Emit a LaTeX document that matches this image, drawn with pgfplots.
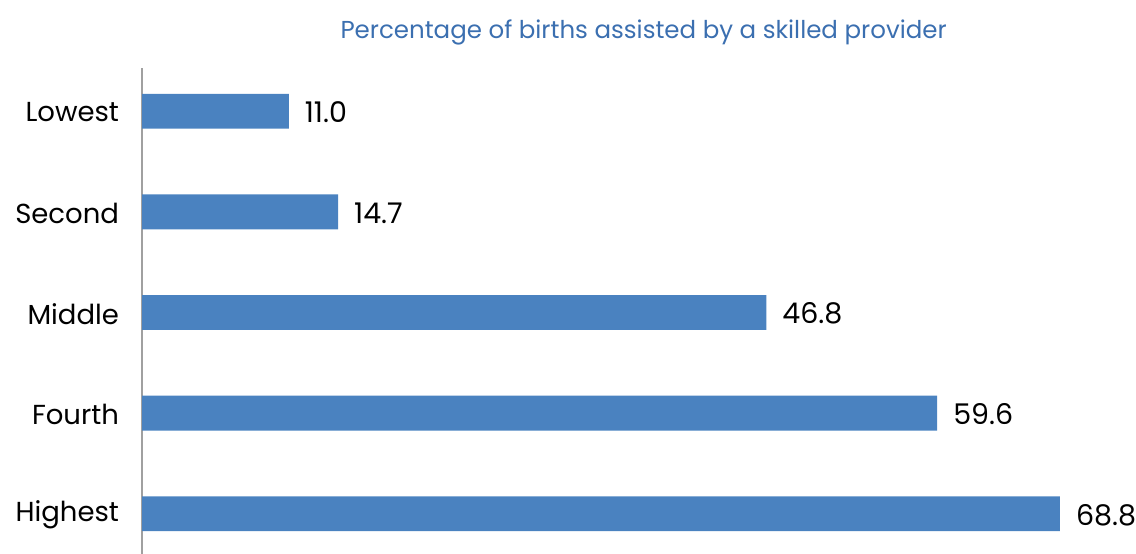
\documentclass[border=0pt]{standalone}
\usepackage{fontspec}
\setmainfont{Poppins}
\usepackage{pgfplots}
\pgfplotsset{compat=1.18}

\definecolor{barblue}{HTML}{4A82C0}
\definecolor{titleblue}{HTML}{3B6FB0}
\definecolor{axisgray}{HTML}{A0A0A0}

\begin{document}
\begin{tikzpicture}
  % page = 1136 x 554 px, 1 px = 0.5 bp
  \useasboundingbox (0,0) rectangle (568bp,-277bp);
  \node[font=\fontsize{12.3}{14}\selectfont, text=titleblue] at (321.8bp,-16bp)
    {Percentage of births assisted by a skilled provider};
  \begin{axis}[
      at={(71bp,-277bp)}, anchor=south west,
      scale only axis,
      width=497bp, height=243bp,
      xbar, bar width=0.347,
      xmin=0, xmax=74.5,
      ymin=-0.43, ymax=4.4,
      y dir=reverse,
      hide x axis,
      axis y line*=left,
      y axis line style={draw=axisgray, line width=0.6pt, -},
      ytick={0,1,2,3,4},
      yticklabels={Lowest, Second, Middle, Fourth, Highest},
      major tick length=0pt,
      yticklabel style={font=\fontsize{13.8}{16}\selectfont, xshift=-8bp, yshift=-0.6bp},
      nodes near coords,
      nodes near coords style={font=\fontsize{14.3}{16}\selectfont, text=black, anchor=west, xshift=4.5bp, yshift=-0.6bp},
      /pgf/number format/.cd, fixed, fixed zerofill, precision=1, assume math mode=true,
      /pgfplots/.cd,
      clip=false,
    ]
    \addplot[fill=barblue, draw=none] coordinates {
      (11.0,0) (14.7,1) (46.8,2) (59.6,3) (68.8,4)
    };
  \end{axis}
\end{tikzpicture}
\end{document}
